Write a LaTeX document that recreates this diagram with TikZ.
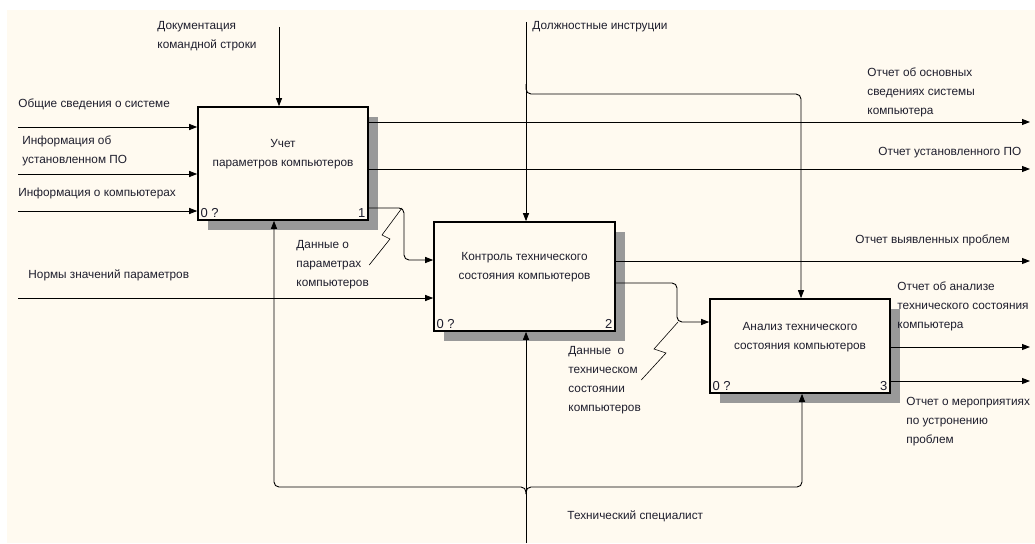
\documentclass[tikz,border=0pt]{standalone}
\usepackage{fontspec}
\setmainfont{Liberation Sans}
\usetikzlibrary{arrows.meta,shadows,patterns}
\definecolor{bgcream}{RGB}{255,250,240}
\definecolor{txt}{RGB}{30,30,45}

\begin{document}
\begin{tikzpicture}[x=1pt,y=-1pt,line width=0.9pt,font=\fontsize{11.8}{19}\selectfont]
		\tikzstyle{box}=[draw=black,line width=1.6pt,fill=bgcream,inner sep=0pt,
			general shadow={shadow xshift=10pt,shadow yshift=-10pt,fill=black!40}]
		\tikzstyle{title}=[align=center,text=txt,yshift=9pt]
		\tikzstyle{tag}=[inner sep=3pt,text=txt,font=\fontsize{13}{15}\selectfont]
		\tikzstyle{lbl}=[anchor=west,align=left,inner sep=0pt,text=txt]
		\tikzstyle{arr}=[-{Triangle[length=8pt,width=6pt]}]
		\useasboundingbox (0,0) rectangle (1035,543);
		\fill[bgcream] (7,10) rectangle (1035,543);
		\node[box,minimum width=170pt,minimum height=113pt,
			label={[title]center:Учет\\параметров компьютеров},
			label={[tag,anchor=south west]south west:0 ?},
			label={[tag,anchor=south east]south east:1}] (b1) at (283,163.5) {};
		\node[box,minimum width=181pt,minimum height=109pt,
			label={[title]center:Контроль технического\\состояния компьютеров},
			label={[tag,anchor=south west]south west:0 ?},
			label={[tag,anchor=south east]south east:2}] (b2) at (524.5,276.5) {};
		\node[box,minimum width=180pt,minimum height=94pt,
			label={[title]center:Анализ технического\\состояния компьютеров},
			label={[tag,anchor=south west]south west:0 ?},
			label={[tag,anchor=south east]south east:3}] (b3) at (800,346) {};
		\node[lbl] (l1) at (18,104) {Общие сведения о системе};
		\node[lbl] (l2) at (22,150.5) {Информация об\\установленном ПО};
		\node[lbl] (l3) at (18,193) {Информация о компьютерах};
		\node[lbl] (l4) at (28,275) {Нормы значений параметров};
		\node[lbl] (l5) at (157,36.5) {Документация\\командной строки};
		\node[lbl] (l6) at (532,27) {Должностные инструции};
		\node[lbl] (l7) at (867,92) {Отчет об основных\\сведениях системы\\компьютера};
		\node[lbl] (l8) at (878,153) {Отчет установленного ПО};
		\node[lbl] (l9) at (855,240) {Отчет выявленных проблем};
		\node[lbl] (l10) at (897,306) {Отчет об анализе\\технического состояния\\компьютера};
		\node[lbl] (l11) at (906,422) {Отчет о мероприятиях\\по устронению\\проблем};
		\node[lbl] (l12) at (296,265) {Данные о\\параметрах\\компьютеров};
		\node[lbl] (l13) at (568,380) {Данные~ о\\техническом\\состоянии\\компьютеров};
		\node[lbl] (l14) at (567,516) {Технический специалист};
		\coordinate (in1) at (18,127);
		\coordinate (in2) at (18,174);
		\coordinate (in3) at (18,211);
		\coordinate (in4) at (18,298);
		\foreach \i in {1,2,3}{
			\draw[arr] (in\i) -- (in\i -| b1.west);
		};
		\draw[arr] (in4) -- (in4 -| b2.west);
		\coordinate (out1) at (1030,122);
		\coordinate (out2) at (1030,169);
		\coordinate (out3) at (1030,261);
		\coordinate (out4) at (1030,347);
		\coordinate (out5) at (1030,381);
		\draw[arr] (b1.east |- out1) -- (out1);
		\draw[arr] (b1.east |- out2) -- (out2);
		\draw[arr] (b2.east |- out3) -- (out3);
		\draw[arr] (b3.east |- out4) -- (out4);
		\draw[arr] (b3.east |- out5) -- (out5);
		\coordinate (ctl1) at (279,27);
		\coordinate (ctl2) at (526,22);
		\coordinate (mech) at (526,543);
		\draw[arr] (ctl1) -- (ctl1 |- b1.north);
		\draw[arr] (ctl2) -- (ctl2 |- b2.north);
		\draw[arr,rounded corners=5pt] (ctl2 |- 0,84) |- (801,94) -- (b3.north -| 801,0);
		\draw[arr] (mech) -- (mech |- b2.south);
		\draw[arr,rounded corners=5pt] (mech |- 0,494) |- (274,487) -- (b1.south -| 274,0);
		\draw[arr,rounded corners=5pt] (mech |- 0,494) |- (802,487) -- (b3.south -| 802,0);
		\draw[arr,rounded corners=5pt] (b1.east |- 0,208) -- (404,208) -- (404,260) -- (b2.west |- 0,260);
		\draw[arr,rounded corners=5pt] (b2.east |- 0,283) -- (677,283) -- (677,322) -- (b3.west |- 0,322);
		\draw[line width=0.6pt] (l12.east) -- (390,239) -- (382,235) -- (402,208);
		\draw[line width=0.6pt] (l13.east) -- (666,353) -- (654,349) -- (678,322);
	\end{tikzpicture}
\end{document}
